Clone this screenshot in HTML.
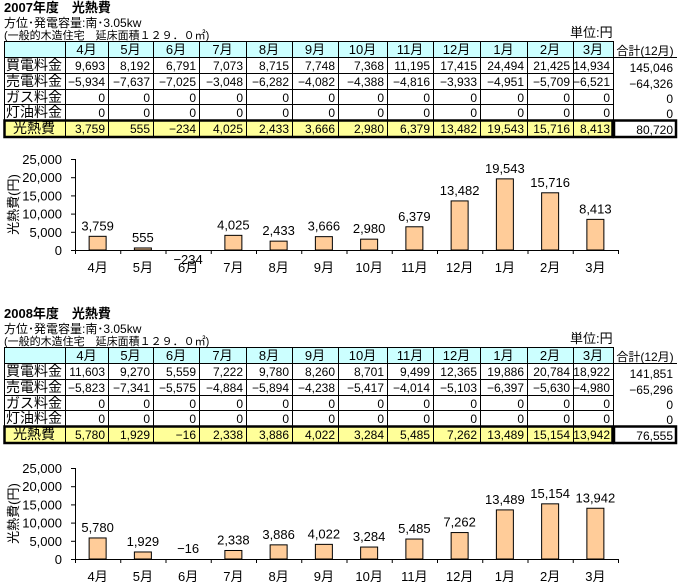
<!DOCTYPE html>
<html><head><meta charset="utf-8"><style>
html,body{margin:0;padding:0;background:#fff;width:680px;height:585px;overflow:hidden}
svg text{font-family:"Liberation Sans","Noto Sans CJK JP",sans-serif;fill:#000}
</style></head><body>
<svg id="s" width="680" height="585" xmlns="http://www.w3.org/2000/svg"></svg>
<script>
const S=document.getElementById('s');let h='';
const cols=[4,65,108,153,199,246,292,338,387,433,480,527,573,613,677];
const months=['4月','5月','6月','7月','8月','9月','10月','11月','12月','1月','2月','3月'];
const labels=['買電料金','売電料金','ガス料金','灯油料金'];
function T(x,y,t,o){o=o||{};h+=`<text x="${x}" y="${y}" font-size="${o.fs||12}" text-anchor="${o.a||'start'}" ${o.w?'font-weight="bold"':''} ${o.tr?`transform="${o.tr}"`:''}>${t}</text>`;}
function R(x,y,w,hh,f,s,sw){h+=`<rect x="${x}" y="${y}" width="${w}" height="${hh}" fill="${f}" stroke="${s||'none'}" stroke-width="${sw||1}"/>`;}
function L(x1,y1,x2,y2,sw){h+=`<line x1="${x1}" y1="${y1}" x2="${x2}" y2="${y2}" stroke="#000" stroke-width="${sw||1}"/>`;}
const f=n=>n.toLocaleString('en-US').replace('-','−');
function block(o,year,data,tot){
 T(4,o+12,year+'年度　光熱費',{w:1,fs:13});
 T(4,o+27,'方位･発電容量:南･3.05kw',{fs:12});
 T(4,o+39,'(一般的木造住宅　延床面積１２９．０㎡)',{fs:11});
 T(570,o+37,'単位:円',{fs:13});
 const ry=[o+41,o+57,o+73,o+89,o+104,o+120,o+137];
 R(4,ry[0],609,16,'#ccffff');
 R(4,ry[5],609,17,'#ffff99');
 for(let r=0;r<5;r++)L(4,ry[r]+.5,613,ry[r]+.5);
 for(let c=0;c<14;c++)L(cols[c]+.5,ry[0],cols[c]+.5,ry[5]);
 for(let c=1;c<13;c++)L(cols[c]+.5,ry[5],cols[c]+.5,ry[6]);
 R(4.5,ry[5]+.5,608,16.5,'none','#000',2.5);
 R(614,ry[5]+.5,62,16.5,'none','#000',2.5);
 months.forEach((m,i)=>T((cols[i+1]+cols[i+2])/2,ry[0]+13,m,{a:'middle',fs:13}));
 T(645,ry[0]+14,'合計(12月)',{a:'middle',fs:12});L(614,ry[1]+.5,677,ry[1]+.5);
 const rows=[data[0],data[1],Array(12).fill(0),Array(12).fill(0),data[2]];
 [...labels,'光熱費'].forEach((l,r)=>{T(r==4?34:6,ry[r+1]+13,l,{fs:14,a:r==4?'middle':'start'});
  rows[r].forEach((v,i)=>T(cols[i+2]-3,ry[r+1]+13,f(v),{a:'end',fs:12}));});
 T(673,ry[1]+15,f(tot[0]),{a:'end'});T(673,ry[2]+15,f(tot[1]),{a:'end'});
 T(673,ry[3]+14,'0',{a:'end'});T(673,ry[4]+14,'0',{a:'end'});T(673,ry[5]+14,f(tot[2]),{a:'end'});
}
function chart(z,vals){
 const top=z-91,x0=75,cw=45.25;
 L(x0+.5,top,x0+.5,z);L(x0,z+.5,x0+12*cw,z+.5);
 for(let k=0;k<=5;k++){const y=z-k*18.2;L(71,y+.5,75,y+.5);T(62,y+5,f(k*5000),{a:'end',fs:13});}
 for(let k=0;k<=12;k++)L(x0+k*cw+.5,z,x0+k*cw+.5,z+4);
 T(18,(top+z)/2,'光熱費(円)',{a:'middle',fs:13,tr:`rotate(-90 18 ${(top+z)/2})`});
 vals.forEach((v,i)=>{const cx=x0+cw*(i+.5);const hh=v/25000*91;
  if(v>0)R(cx-8.5,z-hh,17,hh,'#ffcc99','#000',1);
  const ly=v>0?z-hh-6:(v<-100?z+14:z-6);
  T(cx,ly,f(v),{a:'middle',fs:13});
  T(cx,z+22,months[i],{a:'middle',fs:13});});
}
const d1=[[9693,8192,6791,7073,8715,7748,7368,11195,17415,24494,21425,14934],[-5934,-7637,-7025,-3048,-6282,-4082,-4388,-4816,-3933,-4951,-5709,-6521],[3759,555,-234,4025,2433,3666,2980,6379,13482,19543,15716,8413]];
const d2=[[11603,9270,5559,7222,9780,8260,8701,9499,12365,19886,20784,18922],[-5823,-7341,-5575,-4884,-5894,-4238,-5417,-4014,-5103,-6397,-5630,-4980],[5780,1929,-16,2338,3886,4022,3284,5485,7262,13489,15154,13942]];
block(0,2007,d1,[145046,-64326,80720]);chart(250,d1[2]);
block(306,2008,d2,[141851,-65296,76555]);chart(559,d2[2]);
S.innerHTML=h;
</script>
</body></html>
